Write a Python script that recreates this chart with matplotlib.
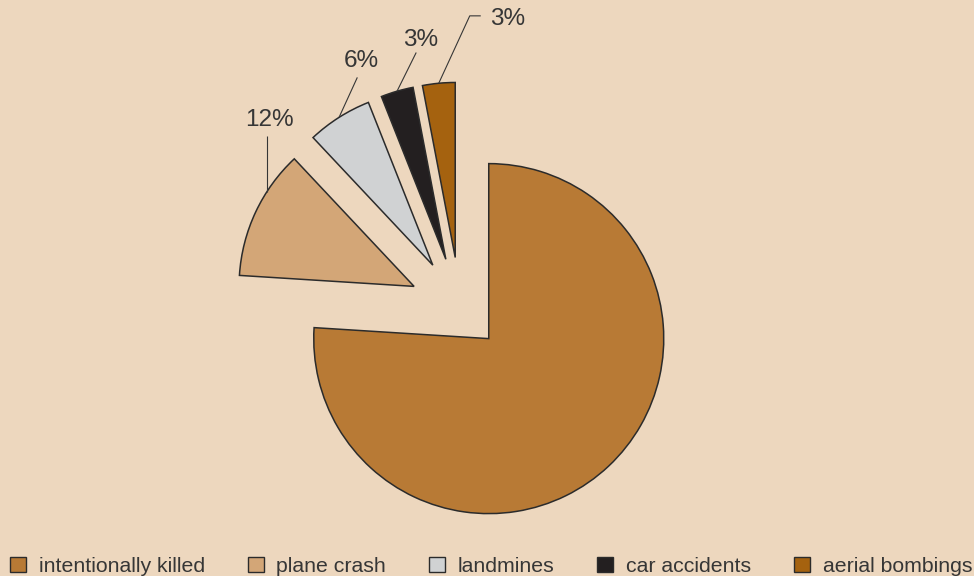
import numpy as np
import matplotlib.pyplot as plt
from matplotlib.patches import Patch

# data
categories = ['intentionally killed', 'plane crash', 'landmines',
              'car accidents', 'aerial bombings']
shares = [76, 12, 6, 3, 3]
pct_labels = ['', '12%', '6%', '3%', '3%']

COLORS = ['#B87A35', '#D3A677', '#D0D2D3', '#231F20', '#A5620F']
BG = '#EDD7BE'
EDGE = '#2B2B2B'
TEXT = '#363636'

# figure geometry (pixels): pie centre and radius
W, H = 974, 576
CX, CY, R = 460, 308, 175

# leader layout per slice: anchor angle (None -> mid angle), line points and
# text baseline as pixel offsets from the anchor on the arc (y up)
LEADERS = {
    1: dict(angle=147.3, pts=[(0, 55.7)], text=(2.8, 65.7)),
    2: dict(angle=None, pts=[(18.3, 40)], text=(22, 50.7)),
    3: dict(angle=None, pts=[(19.2, 38.7)], text=(23.2, 45.7)),
    4: dict(angle=None, pts=[(31, 67.4), (42, 67.4)], text=(69, 58.7)),
}

plt.rcParams['font.family'] = ['Liberation Sans', 'DejaVu Sans']

fig = plt.figure(figsize=(W / 100, H / 100), dpi=100, facecolor=BG)
ax = fig.add_axes([0, 0, 1, 1])
ax.set_facecolor(BG)

wedges, _ = ax.pie(shares, colors=COLORS, startangle=90, counterclock=False,
                   explode=[0.24, 0.29, 0.29, 0.29, 0.29], radius=1,
                   wedgeprops=dict(edgecolor=EDGE, linewidth=1.1))

ax.set_xlim(-CX / R, (W - CX) / R)
ax.set_ylim(-(H - CY) / R, CY / R)
ax.set_aspect('auto')
ax.axis('off')

for i, opts in LEADERS.items():
    w = wedges[i]
    ang = opts['angle'] if opts['angle'] is not None else (w.theta1 + w.theta2) / 2
    t = np.deg2rad(ang)
    x0 = w.center[0] + w.r * np.cos(t)
    y0 = w.center[1] + w.r * np.sin(t)
    xs = [x0] + [x0 + dx / R for dx, dy in opts['pts']]
    ys = [y0] + [y0 + dy / R for dx, dy in opts['pts']]
    ax.plot(xs, ys, color=TEXT, linewidth=0.8, solid_capstyle='butt')
    tx, ty = opts['text']
    ax.text(x0 + tx / R, y0 + ty / R, pct_labels[i], ha='center',
            va='baseline', fontsize=17.5, color=TEXT)

handles = [Patch(facecolor=c, edgecolor=EDGE, linewidth=1.0) for c in COLORS]
fig.legend(handles, categories, ncol=5, loc='lower left',
           bbox_to_anchor=(10 / W, 0 / H), frameon=False, borderpad=0,
           borderaxespad=0, handlelength=0.75, handleheight=0.75,
           handletextpad=0.6, columnspacing=2.02, fontsize=15.3,
           labelcolor=TEXT)

fig.savefig('out.png', dpi=100, facecolor=BG)
